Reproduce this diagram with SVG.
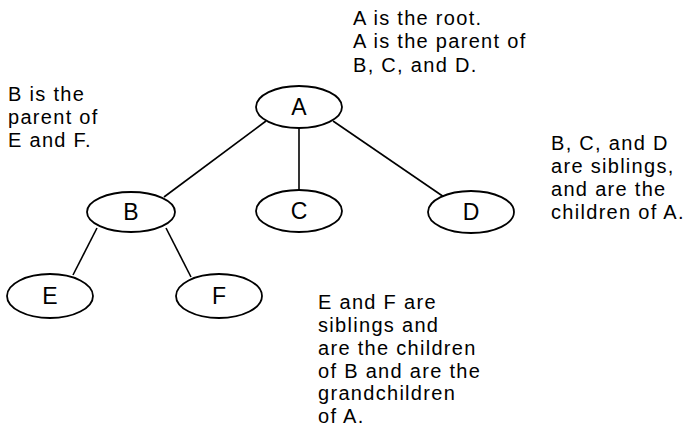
<svg xmlns="http://www.w3.org/2000/svg" width="688" height="427" viewBox="0 0 688 427">
<style>
.n{fill:#fff;stroke:#000;stroke-width:1.8}
.e{stroke:#000;stroke-width:1.6;fill:none}
.l{font-family:"Liberation Sans",Arial,sans-serif;font-size:23px;fill:#000;text-anchor:middle}
.t{font-family:"Liberation Sans",Arial,sans-serif;font-size:20px;letter-spacing:1.3px;fill:#000}
</style>
<rect width="688" height="427" fill="#fff"/>
<g id="edges">
<line class="e" x1="266" y1="121" x2="164" y2="197"/>
<line class="e" x1="299" y1="128" x2="299" y2="190"/>
<line class="e" x1="333" y1="121" x2="444" y2="197"/>
<line class="e" x1="97" y1="228" x2="73" y2="275"/>
<line class="e" x1="166" y1="228" x2="191" y2="277"/>
</g>
<g id="A"><ellipse class="n" cx="299" cy="107" rx="43" ry="21"/><text class="l" x="299" y="115">A</text></g>
<g id="B"><ellipse class="n" cx="131" cy="212" rx="44" ry="20"/><text class="l" x="131" y="220">B</text></g>
<g id="C"><ellipse class="n" cx="299" cy="211" rx="43" ry="21"/><text class="l" x="299" y="219">C</text></g>
<g id="D"><ellipse class="n" cx="471" cy="212" rx="43" ry="21"/><text class="l" x="471" y="220">D</text></g>
<g id="E"><ellipse class="n" cx="50" cy="296" rx="43" ry="22"/><text class="l" x="50" y="304">E</text></g>
<g id="F"><ellipse class="n" cx="219" cy="296" rx="43" ry="22"/><text class="l" x="219" y="304">F</text></g>
<g id="notes">
<text class="t" x="353" y="25">A is the root.</text>
<text class="t" x="353" y="48">A is the parent of</text>
<text class="t" x="353" y="72">B, C, and D.</text>
<text class="t" x="8" y="101">B is the</text>
<text class="t" x="8" y="124">parent of</text>
<text class="t" x="8" y="147">E and F.</text>
<text class="t" x="551" y="150">B, C, and D</text>
<text class="t" x="551" y="173">are siblings,</text>
<text class="t" x="551" y="196">and are the</text>
<text class="t" x="551" y="219">children of A.</text>
<text class="t" x="318" y="309">E and F are</text>
<text class="t" x="318" y="332">siblings and</text>
<text class="t" x="318" y="355">are the children</text>
<text class="t" x="318" y="378">of B and are the</text>
<text class="t" x="318" y="400">grandchildren</text>
<text class="t" x="318" y="423">of A.</text>
</g>
</svg>
